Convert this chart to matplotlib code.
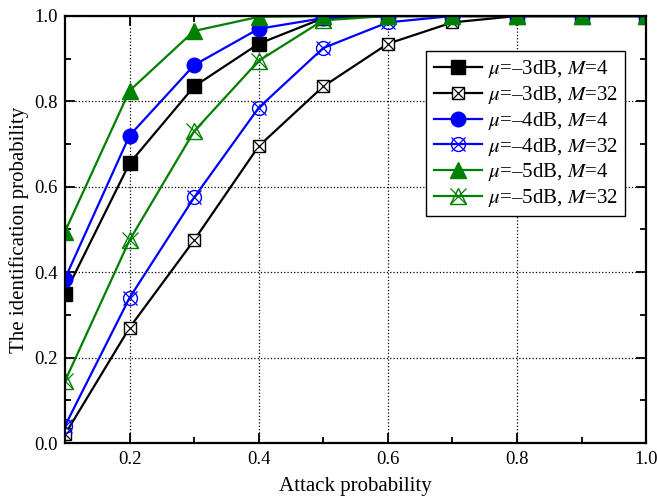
import matplotlib
matplotlib.use("Agg")
import matplotlib.pyplot as plt
from matplotlib.legend_handler import HandlerTuple
from matplotlib.ticker import MultipleLocator

plt.rcParams['font.family'] = ['Liberation Serif', 'DejaVu Serif']
plt.rcParams['mathtext.fontset'] = 'stix'

x = [0.1, 0.2, 0.3, 0.4, 0.5, 0.6, 0.7, 0.8, 0.9, 1.0]
m3_4 = [0.35, 0.655, 0.835, 0.935, 0.995, 1.0, 1.0, 1.0, 1.0, 1.0]
m3_32 = [0.02, 0.27, 0.475, 0.695, 0.835, 0.935, 0.985, 1.0, 1.0, 1.0]
m4_4 = [0.385, 0.72, 0.885, 0.97, 0.995, 1.0, 1.0, 1.0, 1.0, 1.0]
m4_32 = [0.04, 0.34, 0.575, 0.785, 0.925, 0.985, 1.0, 1.0, 1.0, 1.0]
m5_4 = [0.495, 0.825, 0.965, 0.998, 1.0, 1.0, 1.0, 1.0, 1.0, 1.0]
m5_32 = [0.145, 0.475, 0.73, 0.895, 0.99, 1.0, 1.0, 1.0, 1.0, 1.0]

labels = [r"$\mu$=–3dB, $M$=4", r"$\mu$=–3dB, $M$=32",
          r"$\mu$=–4dB, $M$=4", r"$\mu$=–4dB, $M$=32",
          r"$\mu$=–5dB, $M$=4", r"$\mu$=–5dB, $M$=32"]
xticks = [0.2, 0.4, 0.6, 0.8, 1.0]
xticklabels = ['0.2', '0.4', '0.6', '0.8', '1.0']

fig = plt.figure(figsize=(6.57, 5), dpi=100)
ax = fig.add_axes([0.0989, 0.114, 0.8845, 0.854])

lw = 1.6
handles = []
# -3 dB
h = ax.plot(x, m3_4, color='black', lw=lw, marker='s', ms=9.5, mfc='black', mec='black')[0]
handles.append(h)
h1 = ax.plot(x, m3_32, color='black', lw=lw, marker='s', ms=9, mfc='white', mec='black', mew=1.0)[0]
h2 = ax.plot(x, m3_32, ls='none', marker='x', ms=8, mec='black', mew=0.9)[0]
handles.append((h1, h2))
# -4 dB
h = ax.plot(x, m4_4, color='blue', lw=lw, marker='o', ms=10.5, mfc='blue', mec='blue')[0]
handles.append(h)
h1 = ax.plot(x, m4_32, color='blue', lw=lw, marker='o', ms=10, mfc='none', mec='blue', mew=1.0)[0]
h2 = ax.plot(x, m4_32, ls='none', marker='x', ms=10, mec='blue', mew=0.9)[0]
handles.append((h1, h2))
# -5 dB
green = '#008000'
h = ax.plot(x, m5_4, color=green, lw=lw, marker='^', ms=11, mfc=green, mec=green)[0]
handles.append(h)
h1 = ax.plot(x, m5_32, color=green, lw=lw, marker='^', ms=11, mfc='none', mec=green, mew=1.0)[0]
h2 = ax.plot(x, m5_32, ls='none', marker='x', ms=11, mec=green, mew=0.9)[0]
handles.append((h1, h2))

ax.set_xlim(0.1, 1.0)
ax.set_ylim(0.0, 1.0)
ax.xaxis.set_minor_locator(MultipleLocator(0.1))
ax.yaxis.set_major_locator(MultipleLocator(0.2))
ax.yaxis.set_minor_locator(MultipleLocator(0.1))
ax.set_xticks(xticks)
ax.set_xticklabels(xticklabels)
ax.tick_params(which='both', direction='in', top=True, right=True, labelsize=13.5, width=1.3)
ax.tick_params(which='major', length=7)
ax.tick_params(which='minor', length=4)
ax.tick_params(axis='x', which='major', pad=6)
ax.tick_params(axis='y', which='major', pad=5)
ax.grid(True, which='major', ls=':', color='black', lw=0.9)
for s in ax.spines.values():
    s.set_linewidth(1.6)

ax.set_xlabel('Attack probability', fontsize=15, labelpad=6)
ax.set_ylabel('The identification probability', fontsize=15)

leg = ax.legend(handles, labels, loc='upper right', bbox_to_anchor=(0.964, 0.918),
                handler_map={tuple: HandlerTuple(ndivide=1)}, fontsize=15,
                fancybox=False, framealpha=1, edgecolor='black',
                handlelength=2.3, labelspacing=0.18, borderpad=0.35,
                handletextpad=0.3, borderaxespad=0)
leg.get_frame().set_linewidth(1.0)

fig.savefig('out.png', dpi=100)
